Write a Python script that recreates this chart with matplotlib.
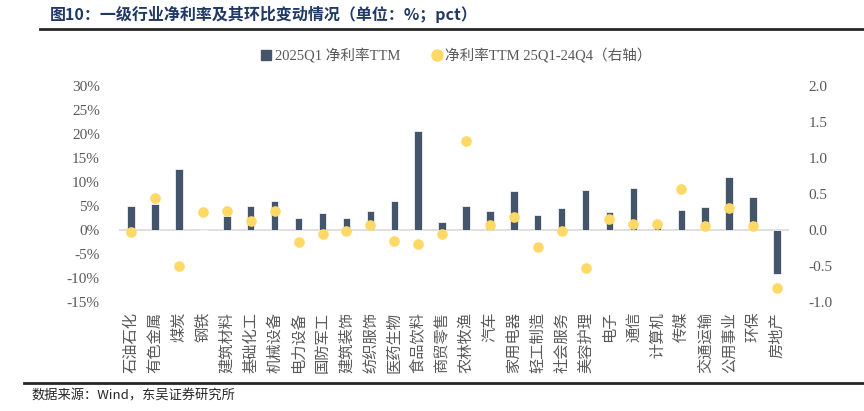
import matplotlib
matplotlib.use("Agg")
import matplotlib.pyplot as plt
from matplotlib.lines import Line2D
import numpy as np

plt.rcParams['font.family'] = ['Liberation Serif', 'Noto Sans CJK SC']

# 行业、2025Q1净利率TTM(%)、环比变动(pct)
industries = ["石油石化", "有色金属", "煤炭", "钢铁", "建筑材料", "基础化工", "机械设备",
              "电力设备", "国防军工", "建筑装饰", "纺织服饰", "医药生物", "食品饮料", "商贸零售",
              "农林牧渔", "汽车", "家用电器", "轻工制造", "社会服务", "美容护理", "电子",
              "通信", "计算机", "传媒", "交通运输", "公用事业", "环保", "房地产"]
margin = [5.0, 5.5, 12.8, 0.1, 2.9, 5.1, 6.0, 2.6, 3.5, 2.4, 4.0, 6.0, 20.6, 1.7,
          5.1, 4.0, 8.1, 3.1, 4.6, 8.4, 3.75, 8.75, 0.9, 4.2, 4.7, 11.0, 6.9, -9.2]
change = [-0.03, 0.44, -0.50, 0.25, 0.26, 0.13, 0.26, -0.17, -0.06, -0.01, 0.07, -0.15, -0.20, -0.05,
          1.23, 0.07, 0.18, -0.24, -0.02, -0.53, 0.15, 0.09, 0.09, 0.57, 0.05, 0.31, 0.06, -0.81]

bar_color = "#44546A"
dot_color = "#FFD966"
grey = "#595959"

fig = plt.figure(figsize=(8.64, 4.11), dpi=100)
ax = fig.add_axes([0.138, 0.265, 0.775, 0.526])
ax2 = ax.twinx()

x = np.arange(len(industries))
ax.bar(x, margin, width=0.31, color=bar_color, edgecolor="white", linewidth=0.5, zorder=2)
ax.axhline(0, color="#D9D9D9", linewidth=1.2, zorder=1)
ax2.scatter(x, change, s=44, color=dot_color, zorder=3)

ax.set_xlim(-0.5, len(industries) - 0.5)
ax.set_ylim(-15, 30)
ax.set_yticks(np.arange(-15, 31, 5))
ax.set_yticklabels(["%d%%" % v for v in np.arange(-15, 31, 5)])
ax2.set_ylim(-1.0, 2.0)
ax2.set_yticks(np.arange(-1.0, 2.01, 0.5))
ax2.set_yticklabels(["%.1f" % v for v in np.arange(-1.0, 2.01, 0.5)])

# 竖排标签
ax.set_xticks(x)
ax.set_xticklabels(industries, rotation=90, family=['Noto Sans CJK SC'], fontsize=10, color=grey)

for a in (ax, ax2):
    for s in a.spines.values():
        s.set_visible(False)
    a.tick_params(length=0, labelsize=11, labelcolor=grey)
ax.tick_params(axis="y", pad=14)
ax2.tick_params(axis="y", pad=14)
ax.tick_params(axis="x", pad=7)

# 图例
handles = [Line2D([], [], marker="s", linestyle="none", color=bar_color, markersize=6.5),
           Line2D([], [], marker="o", linestyle="none", color=dot_color, markersize=8)]
fig.legend(handles, ["2025Q1 净利率TTM", "净利率TTM 25Q1-24Q4（右轴）"], loc="center",
           bbox_to_anchor=(0.527, 0.865), ncol=2, frameon=False, fontsize=10.5,
           handletextpad=0.1, columnspacing=2.0, labelcolor=grey, handlelength=1.0)

# 标题与来源
fig.text(0.058, 0.965, "图10：一级行业净利率及其环比变动情况（单位：%；pct）", fontsize=11.5,
         fontweight="bold", color="#1F3864", va="center", family=['Noto Sans CJK SC'])
fig.add_artist(Line2D([0.046, 1.0], [1 - 29 / 411, 1 - 29 / 411], color="#262626", linewidth=2))
fig.add_artist(Line2D([0.028, 1.0], [1 - 383 / 411, 1 - 383 / 411], color="#262626", linewidth=2))
fig.text(0.036, 1 - 396 / 411, "数据来源：Wind，东吴证券研究所", fontsize=9.5, color="#262626",
         va="center", family=['Noto Sans CJK SC'])

plt.savefig("out.png", dpi=100)
